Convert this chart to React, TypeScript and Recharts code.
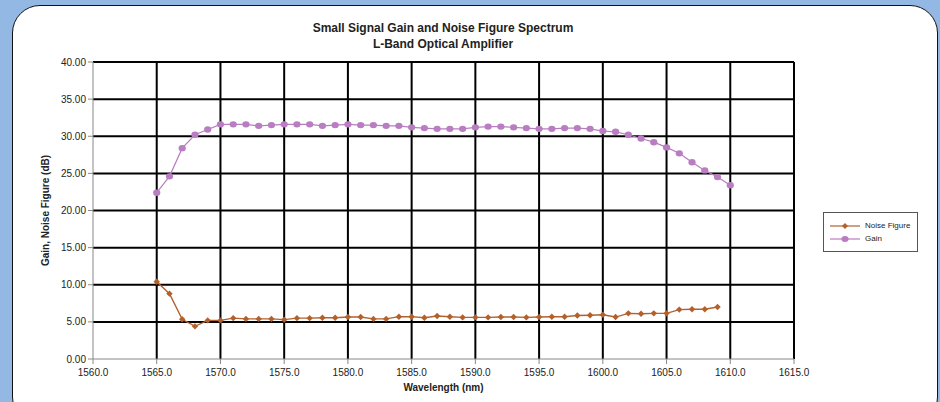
import React from "react";
import {
  LineChart, Line, XAxis, YAxis, ReferenceLine, Legend,
} from "recharts";

// colours
const NF_COLOR = "#b3612c";
const GAIN_COLOR = "#b97dc1";
const BG_BLUE = "#93b8e3";
const FONT = "'Liberation Sans', Arial, sans-serif";

const WAVELENGTH = [
  1565, 1566, 1567, 1568, 1569, 1570, 1571, 1572, 1573, 1574,
  1575, 1576, 1577, 1578, 1579, 1580, 1581, 1582, 1583, 1584,
  1585, 1586, 1587, 1588, 1589, 1590, 1591, 1592, 1593, 1594,
  1595, 1596, 1597, 1598, 1599, 1600, 1601, 1602, 1603, 1604,
  1605, 1606, 1607, 1608, 1609, 1610,
];

const GAIN = [
  22.4, 24.6, 28.4, 30.2, 30.9, 31.6, 31.6, 31.6, 31.4, 31.5,
  31.6, 31.6, 31.6, 31.4, 31.5, 31.6, 31.5, 31.5, 31.4, 31.4,
  31.2, 31.1, 31.0, 31.0, 31.0, 31.2, 31.3, 31.3, 31.2, 31.1,
  31.0, 31.0, 31.1, 31.1, 31.0, 30.7, 30.6, 30.2, 29.7, 29.2,
  28.5, 27.7, 26.5, 25.4, 24.5, 23.4,
];

// no noise figure reading at 1610 nm
const NOISE_FIGURE = [
  10.4, 8.8, 5.35, 4.4, 5.2, 5.2, 5.5, 5.4, 5.4, 5.4,
  5.3, 5.5, 5.5, 5.55, 5.55, 5.65, 5.65, 5.4, 5.4, 5.7,
  5.7, 5.55, 5.8, 5.7, 5.6, 5.6, 5.6, 5.65, 5.65, 5.6,
  5.65, 5.7, 5.7, 5.85, 5.9, 5.95, 5.65, 6.15, 6.1, 6.15,
  6.15, 6.65, 6.7, 6.7, 7.0, null,
];

const X_TICKS = [1560, 1565, 1570, 1575, 1580, 1585, 1590, 1595, 1600, 1605, 1610, 1615];
const Y_TICKS = [0, 5, 10, 15, 20, 25, 30, 35, 40];

const data = WAVELENGTH.map((w, i) => ({ wl: w, nf: NOISE_FIGURE[i], gain: GAIN[i] }));

const tickStyle = { fontSize: 10, fill: "#222", fontFamily: FONT };

function Diamond(props: any) {
  const { cx, cy, value } = props;
  if (value == null || cx == null || cy == null) return null;
  const s = 3.2;
  return (
    <path
      key={`nf-${cx}`}
      d={`M${cx},${cy - s}L${cx + s},${cy}L${cx},${cy + s}L${cx - s},${cy}Z`}
      fill={NF_COLOR}
    />
  );
}

function Blob(props: any) {
  const { cx, cy } = props;
  if (cx == null || cy == null) return null;
  return <ellipse key={`g-${cx}`} cx={cx} cy={cy} rx={3.6} ry={3.2} fill={GAIN_COLOR} />;
}

function LegendBox() {
  const row = (label: string, color: string, marker: React.ReactNode) => (
    <div style={{ display: "flex", alignItems: "center", height: 13 }}>
      <svg width={30} height={10} style={{ marginRight: 5 }}>
        <line x1={0} y1={5} x2={30} y2={5} stroke={color} strokeWidth={1.2} />
        {marker}
      </svg>
      <span style={{ fontSize: 8, color: "#222", fontFamily: FONT }}>{label}</span>
    </div>
  );
  return (
    <div style={{
      width: 95, height: 40, boxSizing: "border-box", border: "1px solid #555",
      padding: "6px 0 0 6px", background: "#fff",
    }}>
      {row("Noise Figure", NF_COLOR, <path d="M15,2L18,5L15,8L12,5Z" fill={NF_COLOR} />)}
      {row("Gain", GAIN_COLOR, <ellipse cx={15} cy={5} rx={3.6} ry={3} fill={GAIN_COLOR} />)}
    </div>
  );
}

export default function App() {
  return (
    <div style={{ position: "fixed", left: 0, top: 0, width: 940, height: 402, background: BG_BLUE, overflow: "hidden" }}>
      <div style={{
        position: "absolute", left: 12, top: 5, width: 926, height: 420,
        boxSizing: "border-box", border: "1.5px solid #111", borderRadius: 28, background: "#fff",
      }} />
      <div style={{
        position: "absolute", left: 243, top: 20, width: 400, textAlign: "center",
        fontFamily: FONT, fontWeight: "bold", fontSize: 12, lineHeight: "16px", color: "#222",
      }}>
        <div>Small Signal Gain and Noise Figure Spectrum</div>
        <div>L-Band Optical Amplifier</div>
      </div>
      <div style={{ position: "absolute", left: 0, top: 0 }}>
        <LineChart width={940} height={402} data={data} margin={{ top: 62, right: 146, bottom: 13, left: 33 }}>
          {Y_TICKS.filter((v) => v > 0).map((v) => (
            <ReferenceLine key={`h${v}`} y={v} stroke="#000" strokeWidth={2} />
          ))}
          {X_TICKS.filter((v) => v > 1560).map((v) => (
            <ReferenceLine key={`v${v}`} x={v} stroke="#000" strokeWidth={2} />
          ))}
          <XAxis
            dataKey="wl" type="number" domain={[1560, 1615]} ticks={X_TICKS} interval={0}
            allowDataOverflow height={30} tick={{ ...tickStyle, dy: 3 }} tickSize={5}
            tickFormatter={(v: number) => v.toFixed(1)}
            axisLine={{ stroke: "#888" }} tickLine={{ stroke: "#888" }}
            label={{ value: "Wavelength (nm)", position: "insideBottom", offset: -2, style: { fontSize: 10, fontWeight: "bold", fill: "#222", fontFamily: FONT } }}
          />
          <YAxis
            type="number" domain={[0, 40]} ticks={Y_TICKS} interval={0} width={60}
            tick={tickStyle} tickSize={5} tickFormatter={(v: number) => v.toFixed(2)}
            axisLine={{ stroke: "#888" }} tickLine={{ stroke: "#888" }}
            label={{ value: "Gain, Noise Figure (dB)", angle: -90, position: "insideLeft", offset: 12, style: { fontSize: 10, fontWeight: "bold", fill: "#222", fontFamily: FONT, textAnchor: "middle" } }}
          />
          <Legend
            layout="horizontal" verticalAlign="middle" align="center"
            content={() => <LegendBox />}
            wrapperStyle={{ left: 823, top: 212, width: 95, height: 40 }}
          />
          <Line
            name="Noise Figure" dataKey="nf" stroke={NF_COLOR} strokeWidth={1.4}
            dot={<Diamond />} activeDot={false} isAnimationActive={false}
          />
          <Line
            name="Gain" dataKey="gain" stroke={GAIN_COLOR} strokeWidth={1.2}
            dot={<Blob />} activeDot={false} isAnimationActive={false}
          />
        </LineChart>
      </div>
    </div>
  );
}
